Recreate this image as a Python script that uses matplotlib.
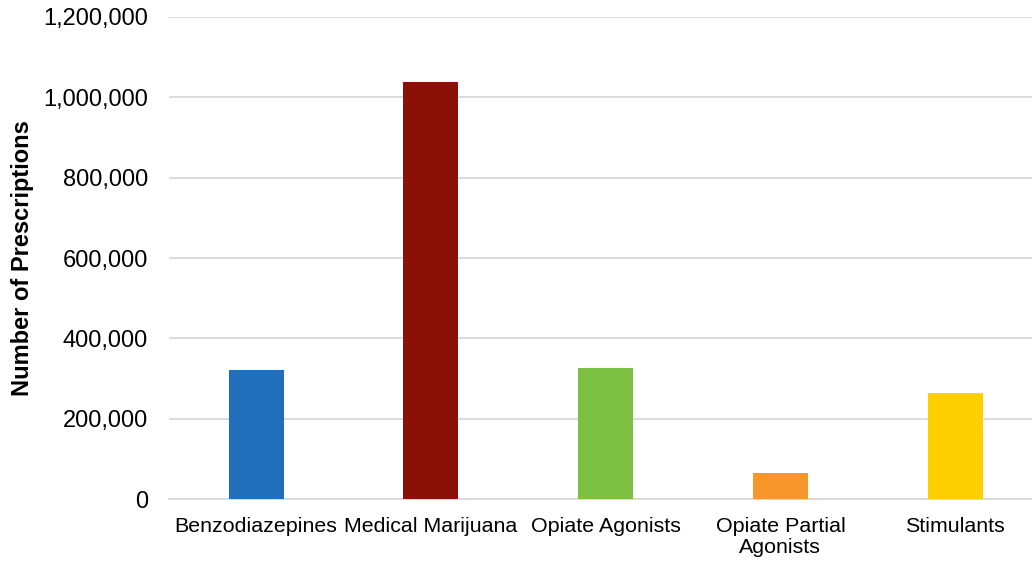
import matplotlib
matplotlib.use('Agg')
import matplotlib.pyplot as plt
from matplotlib.ticker import FuncFormatter

categories = ['Benzodiazepines', 'Medical Marijuana', 'Opiate Agonists',
              'Opiate Partial\nAgonists', 'Stimulants']
prescriptions = [322600, 1037000, 326000, 65300, 263800]
colors = ['#1f6fbc', '#8b1005', '#7cc142', '#f7962b', '#fed000']

plt.rcParams['font.family'] = ['Liberation Sans', 'DejaVu Sans']

fig = plt.figure(figsize=(10.32, 5.64), dpi=100)
# right edge runs past the image like in the original
ax = fig.add_axes([0.1635, 0.115, 0.8467, 0.855])

x = range(len(categories))
ax.bar(x, prescriptions, width=0.315, color=colors, zorder=3)

ax.set_ylim(0, 1200000)
ax.set_xlim(-0.5, len(categories) - 0.5)
ax.set_yticks(range(0, 1200001, 200000))
ax.yaxis.set_major_formatter(FuncFormatter(lambda v, p: f'{int(v):,}'))
ax.grid(axis='y', color='#d9d9d9', linewidth=1.3, zorder=0)
ax.set_xticks(list(x))
ax.set_xticklabels(categories, fontsize=15.4, linespacing=1.15)
ax.tick_params(axis='both', length=0, colors='black')
ax.tick_params(axis='y', labelsize=17, pad=15)
ax.tick_params(axis='x', pad=13)
for s in ['top', 'right', 'left']:
    ax.spines[s].set_visible(False)
ax.spines['bottom'].set_color('#d9d9d9')
ax.spines['bottom'].set_linewidth(1.3)

ax.set_ylabel('Number of Prescriptions', fontsize=17, fontweight='bold')
ax.yaxis.set_label_coords(-0.154, 0.5)

fig.savefig('out.png', dpi=100)
